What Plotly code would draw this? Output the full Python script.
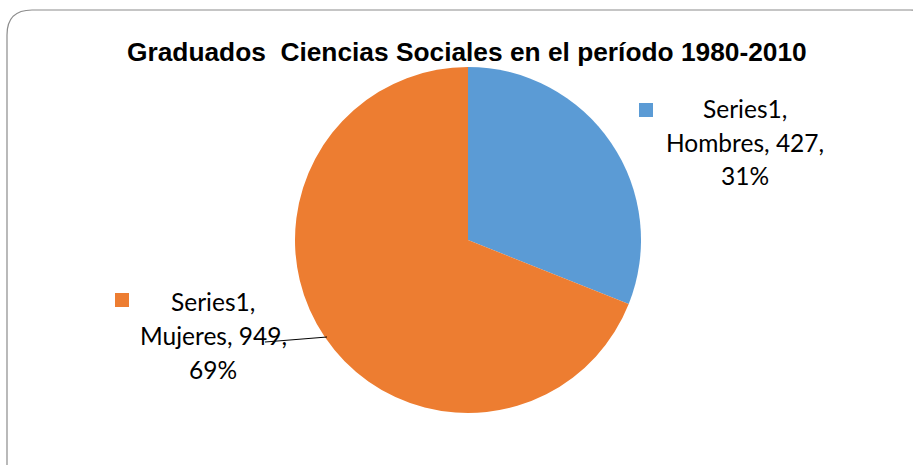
import plotly.graph_objects as go

# Data
series_name = "Series1"
categories = ["Hombres", "Mujeres"]
values = [427, 949]
colors = ["#5B9BD5", "#ED7D31"]
title_text = "Graduados  Ciencias Sociales en el período 1980-2010"

W, H = 913, 465


def px(x):
    return x / W


def py(y):
    return 1 - y / H


total = sum(values)
pcts = [round(v * 100 / total) for v in values]

fig = go.Figure()
fig.add_trace(go.Pie(
    labels=categories,
    values=values,
    sort=False,
    direction="clockwise",
    rotation=0,
    marker=dict(colors=colors, line=dict(width=0)),
    textinfo="none",
    hoverinfo="label+value+percent",
    showlegend=False,
    domain=dict(x=[px(295), px(641)], y=[py(413), py(67)]),
))

# Data labels: three lines each with a colour key square
label_font = dict(family="Lato, Carlito, sans-serif", size=24.5, color="#000000")
label_pos = [
    dict(cx=745, y0=108, key=(646, 110)),
    dict(cx=213, y0=301, key=(122, 300)),
]
annotations = []
shapes = []
for cat, val, pct, col, pos in zip(categories, values, pcts, colors, label_pos):
    lines = [f"{series_name},", f"{cat}, {val},", f"{pct}%"]
    for i, ln in enumerate(lines):
        annotations.append(dict(
            x=px(pos["cx"]), y=py(pos["y0"] + i * 34), xref="paper", yref="paper",
            text=ln, showarrow=False, font=label_font,
            xanchor="center", yanchor="middle",
        ))
    kx, ky = pos["key"]
    shapes.append(dict(
        type="rect", xref="paper", yref="paper",
        x0=px(kx - 7), x1=px(kx + 7), y0=py(ky + 7), y1=py(ky - 7),
        fillcolor=col, line=dict(width=0),
    ))

# Leader line for the Mujeres label
shapes.append(dict(
    type="line", xref="paper", yref="paper",
    x0=px(265), y0=py(342), x1=px(327), y1=py(337),
    line=dict(color="#000000", width=1),
))

# Rounded chart-area border
r = 25
x0, x1, y0, y1 = 7, 935, 10, 490
path = (
    f"M {px(x0)},{py(y0 + r)} "
    f"Q {px(x0)},{py(y0)} {px(x0 + r)},{py(y0)} "
    f"L {px(x1 - r)},{py(y0)} "
    f"Q {px(x1)},{py(y0)} {px(x1)},{py(y0 + r)} "
    f"L {px(x1)},{py(y1 - r)} "
    f"Q {px(x1)},{py(y1)} {px(x1 - r)},{py(y1)} "
    f"L {px(x0 + r)},{py(y1)} "
    f"Q {px(x0)},{py(y1)} {px(x0)},{py(y1 - r)} Z"
)
shapes.append(dict(
    type="path", xref="paper", yref="paper", path=path,
    line=dict(color="#8C8C8C", width=1.2), layer="below",
))

# Title
annotations.append(dict(
    x=px(467), y=py(52), xref="paper", yref="paper",
    text=f"<b>{title_text.replace('  ', ' &nbsp;')}</b>", showarrow=False,
    font=dict(family="Liberation Sans, Arial, sans-serif", size=26.3, color="#000000"),
    xanchor="center", yanchor="middle",
))

fig.update_layout(
    width=W, height=H,
    margin=dict(l=0, r=0, t=0, b=0),
    paper_bgcolor="#FFFFFF",
    plot_bgcolor="#FFFFFF",
    annotations=annotations,
    shapes=shapes,
)

fig.write_html("out.html")
